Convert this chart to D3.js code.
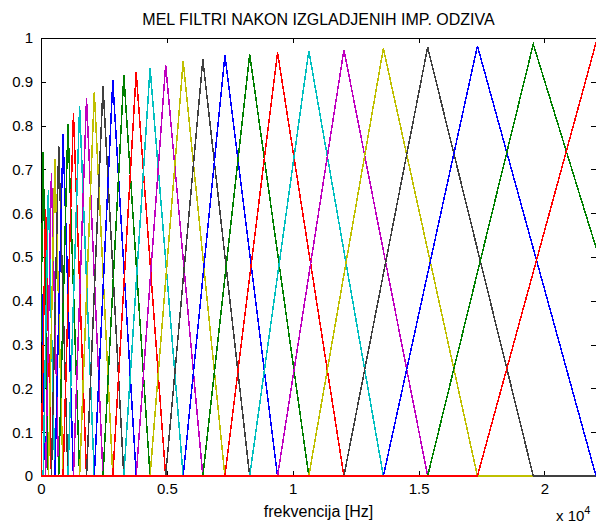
<!DOCTYPE html>
<html>
<head>
<meta charset="utf-8">
<script src="https://cdn.jsdelivr.net/npm/d3@7"></script>
<style>
  body { margin: 0; background: #fff; }
  svg text { font-family: "Liberation Sans", Arial, sans-serif; fill: #000; }
</style>
</head>
<body>
<div id="chart"></div>
<script>
// centre frequency (Hz) of the mel grid, index 0 = filter -2 ... index 34 = filter 32
var melCentres = [-145, -77, 0, 86, 183, 292, 414, 551, 704, 877, 1071, 1289, 1534,
  1809, 2117, 2464, 2853, 3291, 3782, 4333, 4952, 5648, 6429, 7306, 8291, 9398,
  10640, 12035, 13602, 15362, 17339, 19558, 22050, 24849, 27993];

// peak of each smoothed filter 0..30
var peakHeights = [0.50, 0.74, 0.61, 0.653, 0.691, 0.723, 0.754, 0.780, 0.804, 0.828,
  0.845, 0.862, 0.877, 0.891, 0.903, 0.915, 0.922, 0.932, 0.939, 0.947, 0.951,
  0.960, 0.963, 0.967, 0.971, 0.973, 0.976, 0.979, 0.982, 0.986, 0.989];

// matlab default colour order
var lineColours = ["#0000ff", "#008000", "#ff0000", "#00bfbf", "#bf00bf", "#bfbf00", "#404040"];

var xTicks = [0, 5000, 10000, 15000, 20000],
    xTickLabels = ["0", "0.5", "1", "1.5", "2"],
    yTicks = [0, 0.1, 0.2, 0.3, 0.4, 0.5, 0.6, 0.7, 0.8, 0.9, 1],
    yTickLabels = ["0", "0.1", "0.2", "0.3", "0.4", "0.5", "0.6", "0.7", "0.8", "0.9", "1"];

var width = 596, height = 526,
    fMax = 22050;

var svg = d3.select("#chart")
  .append("svg")
  .attr("width", width)
  .attr("height", height);

var x = d3.scaleLinear().domain([0, fMax]).range([41, 596]);
var y = d3.scaleLinear().domain([0, 1]).range([476, 38]);

svg.append("clipPath")
  .attr("id", "plotArea")
  .append("rect")
  .attr("x", x(0))
  .attr("y", y(1) - 2)
  .attr("width", x(fMax) - x(0))
  .attr("height", y(0) - y(1) + 3);

// axes box
svg.append("rect")
  .attr("x", x(0) + 0.5)
  .attr("y", y(1) + 0.5)
  .attr("width", x(fMax) - x(0))
  .attr("height", y(0) - y(1))
  .attr("fill", "none")
  .attr("stroke", "#000")
  .attr("shape-rendering", "crispEdges");

function styleAxis(g) {
  g.attr("font-family", "Liberation Sans, Arial, sans-serif").attr("font-size", 15);
  g.select(".domain").remove();
  g.selectAll(".tick line").attr("stroke", "#000").attr("shape-rendering", "crispEdges");
}

svg.append("g")
  .attr("transform", "translate(" + x(0) + ",0)")
  .call(d3.axisLeft(y).tickValues(yTicks)
    .tickFormat(function(d, i) { return yTickLabels[i]; })
    .tickSize(-5).tickPadding(8))
  .call(styleAxis);

svg.append("g")
  .attr("transform", "translate(" + x(fMax) + ",0)")
  .call(d3.axisRight(y).tickValues(yTicks).tickFormat("").tickSize(-5))
  .call(styleAxis);

svg.append("g")
  .attr("transform", "translate(0," + y(0) + ")")
  .call(d3.axisBottom(x).tickValues(xTicks)
    .tickFormat(function(d, i) { return xTickLabels[i]; })
    .tickSize(-5).tickPadding(7))
  .call(styleAxis);

svg.append("g")
  .attr("transform", "translate(0," + y(1) + ")")
  .call(d3.axisTop(x).tickValues(xTicks).tickFormat("").tickSize(-5))
  .call(styleAxis);

// filters: filter k rises from centre k-2 to centre k, falls to centre k+2
var line = d3.line()
  .x(function(d) { return x(d[0]); })
  .y(function(d) { return y(d[1]); });

var filters = peakHeights.map(function(h, k) {
  var left = melCentres[k], mid = melCentres[k + 2], right = melCentres[k + 4];
  return [[Math.min(0, left), 0], [left, 0], [mid, h], [right, 0], [Math.max(fMax, right), 0]];
});

svg.append("g")
  .attr("clip-path", "url(#plotArea)")
  .selectAll(null)
  .data(filters)
  .enter().append("path")
  .attr("d", line)
  .attr("fill", "none")
  .attr("stroke", function(d, i) { return lineColours[i % lineColours.length]; })
  .attr("stroke-width", 1.5)
  .attr("shape-rendering", "crispEdges");

// labels
svg.append("text")
  .attr("x", (x(0) + x(fMax)) / 2)
  .attr("y", 25)
  .attr("text-anchor", "middle")
  .attr("font-size", 16)
  .text("MEL FILTRI NAKON IZGLADJENIH IMP. ODZIVA");

svg.append("text")
  .attr("x", (x(0) + x(fMax)) / 2)
  .attr("y", 517)
  .attr("text-anchor", "middle")
  .attr("font-size", 16)
  .text("frekvencija [Hz]");

var expo = svg.append("text")
  .attr("x", 556)
  .attr("y", 521)
  .attr("font-size", 15);
expo.append("tspan").text("x 10");
expo.append("tspan").attr("dy", -7).attr("font-size", 11).text("4");
</script>
</body>
</html>
